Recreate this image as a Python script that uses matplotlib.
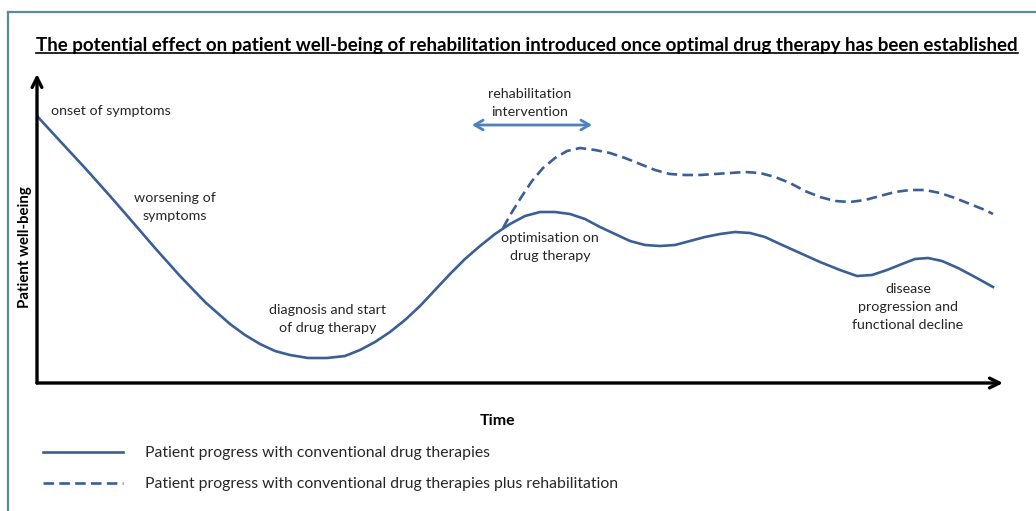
import matplotlib
matplotlib.use("Agg")
import matplotlib.pyplot as plt
from matplotlib.lines import Line2D

plt.rcParams['font.family'] = ['Lato', 'DejaVu Sans']

drug_time = [0, 23, 48, 73, 93, 118, 143, 168, 193, 208,
             223, 238, 253, 271, 290, 308, 323, 338, 353, 368,
             383, 398, 413, 428, 443, 458, 473, 488, 503, 518,
             533, 548, 563, 578, 593, 608, 623, 638, 653, 668,
             683, 698, 713, 728, 743, 763, 783, 803, 820, 835,
             850, 865, 878, 891, 905, 921, 938, 956]
drug_wellbeing = [267, 242, 215, 187, 164, 135, 107, 81, 59, 48,
                  39, 32, 28, 25, 25, 27, 33, 41, 51, 63,
                  77, 93, 109, 124, 137, 149, 159, 167, 171, 171,
                  169, 164, 156, 149, 142, 138, 137, 138, 142, 146,
                  149, 151, 150, 146, 139, 130, 121, 113, 107, 108,
                  113, 119, 124, 125, 122, 115, 106, 96]

rehab_time = [466, 475, 485, 495, 506, 518, 530, 543, 558, 573,
              588, 603, 618, 633, 648, 663, 678, 693, 708, 723,
              738, 753, 768, 783, 798, 813, 828, 843, 858, 873,
              888, 903, 918, 933, 948, 956]
rehab_wellbeing = [155, 171, 187, 202, 215, 225, 232, 235, 233, 230,
                   225, 219, 213, 209, 208, 208, 209, 210, 211, 210,
                   206, 200, 192, 186, 182, 181, 183, 187, 191, 193,
                   193, 190, 185, 179, 173, 169]

labels = ["Patient progress with conventional drug therapies",
          "Patient progress with conventional drug therapies plus rehabilitation"]
title = ("The potential effect on patient well-being of rehabilitation "
         "introduced once optimal drug therapy has been established")

line_color = '#3b5f94'
arrow_color = '#4f81bd'
text_color = '#262626'

W, H = 1036, 511
fig = plt.figure(figsize=(W / 100, H / 100), dpi=100)


def fx(px):
    return px / W


def fy(py):
    return 1 - py / H


# frame of the slide
fig.add_artist(Line2D([fx(8), fx(W)], [fy(12), fy(12)], color='#5b8a99', lw=1.6))
fig.add_artist(Line2D([fx(8), fx(8)], [fy(12), fy(H)], color='#5b8a99', lw=1.6))

ax = fig.add_axes([fx(37), fy(383), (1002 - 37) / W, (383 - 75) / H])
ax.set_xlim(0, 965)
ax.set_ylim(0, 308)
ax.axis('off')

# axes arrows
ax.annotate('', xy=(966, 0), xytext=(0, 0), annotation_clip=False,
            arrowprops=dict(arrowstyle='->,head_length=0.7,head_width=0.35',
                            lw=2.4, color='black', shrinkA=0, shrinkB=0))
ax.annotate('', xy=(0, 309), xytext=(0, 0), annotation_clip=False,
            arrowprops=dict(arrowstyle='->,head_length=0.7,head_width=0.35',
                            lw=2.4, color='black', shrinkA=0, shrinkB=0))

l1, = ax.plot(drug_time, drug_wellbeing, color=line_color, lw=1.9,
              solid_joinstyle='round', label=labels[0])
l2, = ax.plot(rehab_time, rehab_wellbeing, color=line_color, lw=1.9,
              dashes=(4, 2), label=labels[1])

# rehabilitation intervention arrow
ax.annotate('', xy=(555, 258), xytext=(435, 258), annotation_clip=False,
            arrowprops=dict(arrowstyle='<->,head_length=0.6,head_width=0.35',
                            lw=2.0, color=arrow_color, shrinkA=0, shrinkB=0))

fs = 10.3
ls = 1.6
ax.text(14, 272, "onset of symptoms", ha='left', va='center', fontsize=fs, color=text_color)
ax.text(138, 176, "worsening of\nsymptoms", ha='center', va='center', fontsize=fs,
        color=text_color, linespacing=ls)
ax.text(291, 64, "diagnosis and start\nof drug therapy", ha='center', va='center',
        fontsize=fs, color=text_color, linespacing=ls)
ax.text(513, 136, "optimisation on\ndrug therapy", ha='center', va='center',
        fontsize=fs, color=text_color, linespacing=ls)
ax.text(493, 280, "rehabilitation\nintervention", ha='center', va='center',
        fontsize=fs, color=text_color, linespacing=ls)
ax.text(871, 76, "disease\nprogression and\nfunctional decline", ha='center',
        va='center', fontsize=fs, color=text_color, linespacing=ls)

fig.text(fx(498), fy(421), "Time", ha='center', va='center', fontsize=11.5,
         fontweight='bold', color='black')
fig.text(fx(25), fy(247), "Patient well-being", ha='center', va='center',
         rotation=90, fontsize=10.8, fontweight='bold', color='black')

t = fig.text(fx(527), fy(46), title, ha='center', va='center', fontsize=13.5,
             fontweight='bold', color='black')

ax.legend(handles=[l1, l2], loc='upper left', bbox_to_anchor=(fx(43), fy(446)),
          bbox_transform=fig.transFigure, frameon=False, fontsize=11.3,
          handlelength=5.1, handletextpad=1.4, labelspacing=1.1, borderpad=0,
          borderaxespad=0, labelcolor=text_color)

# underline the title
fig.canvas.draw()
bb = t.get_window_extent().transformed(fig.transFigure.inverted())
fig.add_artist(Line2D([bb.x0, bb.x1], [bb.y0 + 0.002, bb.y0 + 0.002],
                      color='black', lw=1.2))

fig.savefig('out.png', dpi=100)
